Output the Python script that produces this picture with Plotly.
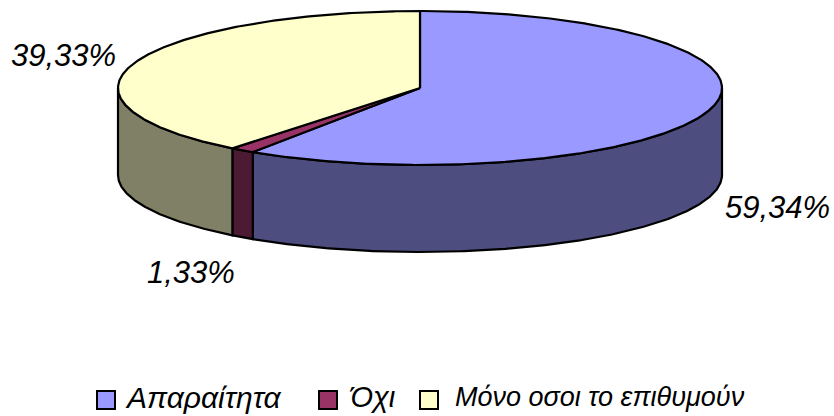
import math
import plotly.graph_objects as go

categories = ["Απαραίτητα", "Όχι", "Μόνο οσοι το επιθυμούν"]
shares = [59.34, 1.33, 39.33]
top_colors = ["#9999ff", "#993366", "#ffffcc"]
side_colors = ["#4d4d80", "#4d1a33", "#808066"]

# Disc geometry in plot units: the y axis runs downwards.
CX, CY, RX, RY, DEPTH = 420, 88, 302, 77, 87

# Label anchors (centre of each text) and legend row layout.
label_pos = [(777, 207), (191, 272), (63, 55)]
legend_swatch_x = [106, 328, 429]
legend_text_x = [123, 347, 453]
legend_text_size = [30, 29, 27]
LEGEND_Y = 400
LEGEND_TEXT_Y = 397
FONT = "Liberation Sans"


def rim(theta_deg, drop=0):
    t = math.radians(theta_deg)
    return CX + RX * math.sin(t), CY - RY * math.cos(t) + drop


def arc(a, b, drop=0):
    n = max(2, int(abs(b - a) * 2))
    return [rim(a + (b - a) * i / n, drop) for i in range(n + 1)]


def polygon(fig, pts, color, name):
    fig.add_trace(go.Scatter(
        x=[p[0] for p in pts], y=[p[1] for p in pts],
        mode="lines", fill="toself", fillcolor=color,
        line=dict(color="black", width=2.2), name=name,
        hoverinfo="name", showlegend=False,
    ))


fig = go.Figure()

# Slice boundaries, clockwise from twelve o'clock.
total = sum(shares)
edges = [0]
for s in shares:
    edges.append(edges[-1] + s / total * 360)

# Outer wall: only the front half of the rim (90 to 270 degrees) is visible.
for name, a, b, col in zip(categories, edges, edges[1:], side_colors):
    lo, hi = max(a, 90), min(b, 270)
    if lo < hi:
        polygon(fig, arc(lo, hi) + arc(hi, lo, DEPTH) + [rim(lo)], col, name)

# Top face.
for name, a, b, col in zip(categories, edges, edges[1:], top_colors):
    polygon(fig, [(CX, CY)] + arc(a, b) + [(CX, CY)], col, name)

# Legend swatches.
fig.add_trace(go.Scatter(
    x=legend_swatch_x, y=[LEGEND_Y] * 3, mode="markers",
    marker=dict(symbol="square", size=18, color=top_colors,
                line=dict(color="black", width=2)),
    hoverinfo="skip", showlegend=False,
))

annotations = []
for s, (x, y) in zip(shares, label_pos):
    annotations.append(dict(
        x=x, y=y, xref="x", yref="y", showarrow=False,
        text="<i>" + f"{s:.2f}%".replace(".", ",") + "</i>",
        font=dict(family=FONT, size=31, color="black"),
    ))
for name, x, size in zip(categories, legend_text_x, legend_text_size):
    annotations.append(dict(
        x=x, y=LEGEND_TEXT_Y, xref="x", yref="y", xanchor="left", showarrow=False,
        text=f"<i>{name}</i>",
        font=dict(family=FONT, size=size, color="black"),
    ))

fig.update_layout(
    width=834, height=416, margin=dict(l=0, r=0, t=0, b=0),
    paper_bgcolor="white", plot_bgcolor="white", showlegend=False,
    xaxis=dict(range=[0, 834], visible=False, fixedrange=True),
    yaxis=dict(range=[416, 0], visible=False, fixedrange=True),
    annotations=annotations,
)

fig.write_html("out.html", config=dict(displayModeBar=False))
